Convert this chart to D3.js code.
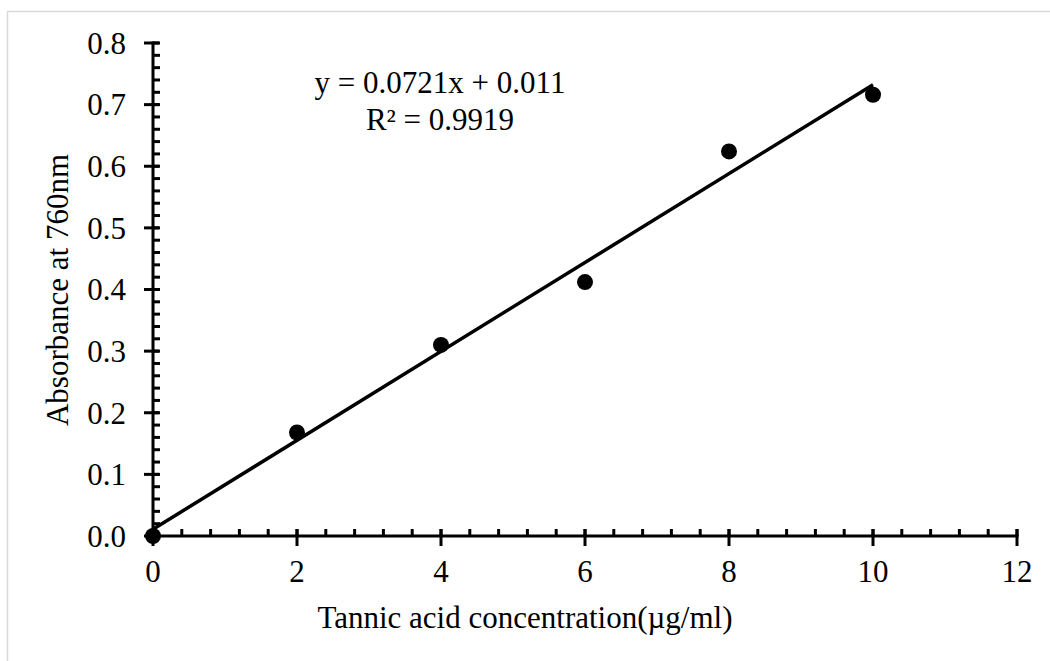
<!DOCTYPE html>
<html><head><meta charset="utf-8">
<script src="https://cdn.jsdelivr.net/npm/d3@7"></script>
<style>body{margin:0;background:#fff}svg{display:block}text{font-family:"Liberation Serif","Times New Roman",serif;fill:#000}</style>
</head><body><svg id="c" width="1050" height="661"></svg>
<script>
const concentrations = [0, 2, 4, 6, 8, 10];
const absorbance = [0, 0.168, 0.31, 0.412, 0.624, 0.716];
const xTicks = [0, 2, 4, 6, 8, 10, 12];
const yTicks = [0, 0.1, 0.2, 0.3, 0.4, 0.5, 0.6, 0.7, 0.8];
const equationText = ["y = 0.0721x + 0.011", "R\u00B2 = 0.9919"];
const xTitle = "Tannic acid concentration(\u00B5g/ml)";
const yTitle = "Absorbance at 760nm";

const svg = d3.select("#c");
svg.append("rect").attr("x",7.5).attr("y",11.5).attr("width",1100).attr("height",700)
  .attr("fill","none").attr("stroke","#d9d9d9").attr("stroke-width",1.5);

const x = d3.scaleLinear().domain([0,12]).range([153,1017]);
const y = d3.scaleLinear().domain([0,0.8]).range([536,43]);
const fs = 31;

// trendline via least squares
const mx = d3.mean(concentrations), my = d3.mean(absorbance);
let sxy=0, sxx=0;
concentrations.forEach((c,i)=>{sxy+=(c-mx)*(absorbance[i]-my);sxx+=(c-mx)*(c-mx);});
const slope = sxy/sxx, intercept = my - slope*mx;
const x0 = d3.min(concentrations), x1 = d3.max(concentrations);

const yMinor = d3.range(0, 0.8001, 0.02);
const xMinor = d3.range(0, 12.001, 0.4);
const g = svg.append("g");
g.selectAll(".ym").data(yMinor).join("line")
  .attr("x1",x(0)).attr("x2",x(0)+7).attr("y1",d=>y(d)).attr("y2",d=>y(d))
  .attr("stroke","#000").attr("stroke-width",3);
g.selectAll(".xm").data(xMinor).join("line")
  .attr("x1",d=>x(d)).attr("x2",d=>x(d)).attr("y1",y(0)).attr("y2",y(0)-7)
  .attr("stroke","#000").attr("stroke-width",3);
g.selectAll(".yM").data(yTicks).join("line")
  .attr("x1",x(0)-9).attr("x2",x(0)+6).attr("y1",d=>y(d)).attr("y2",d=>y(d))
  .attr("stroke","#000").attr("stroke-width",3);
g.selectAll(".xM").data(xTicks).join("line")
  .attr("x1",d=>x(d)).attr("x2",d=>x(d)).attr("y1",y(0)-7).attr("y2",y(0)+10)
  .attr("stroke","#000").attr("stroke-width",3);
g.append("line").attr("x1",x(0)).attr("x2",x(0)).attr("y1",y(0)+1.5).attr("y2",y(0.8)-1.5).attr("stroke","#000").attr("stroke-width",3);
g.append("line").attr("x1",x(0)-1.5).attr("x2",x(12)+1.5).attr("y1",y(0)).attr("y2",y(0)).attr("stroke","#000").attr("stroke-width",3);

svg.selectAll(".yl").data(yTicks).join("text")
  .attr("x",x(0)-27).attr("y",d=>y(d)).attr("dy","0.35em").attr("text-anchor","end")
  .attr("font-size",fs).text(d=>d.toFixed(1));
svg.selectAll(".xl").data(xTicks).join("text")
  .attr("x",d=>x(d)).attr("y",582).attr("text-anchor","middle")
  .attr("font-size",fs).text(d=>d);

svg.append("line").attr("x1",x(x0)).attr("y1",y(slope*x0+intercept))
  .attr("x2",x(x1)).attr("y2",y(slope*x1+intercept))
  .attr("stroke","#000").attr("stroke-width",3.5);

svg.selectAll(".pt").data(concentrations).join("circle")
  .attr("cx",d=>x(d)).attr("cy",(d,i)=>y(absorbance[i])).attr("r",8).attr("fill","#000");

svg.selectAll(".eq").data(equationText).join("text")
  .attr("x",440).attr("y",(d,i)=>93+i*37).attr("text-anchor","middle")
  .attr("font-size",fs).text(d=>d);

svg.append("text").attr("x",525).attr("y",628).attr("text-anchor","middle").attr("font-size",fs).text(xTitle);
svg.append("text").attr("transform","translate(68,290) rotate(-90)").attr("text-anchor","middle").attr("font-size",fs).text(yTitle);
</script></body></html>
